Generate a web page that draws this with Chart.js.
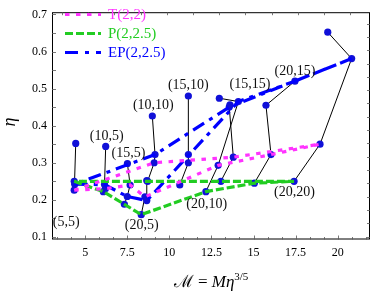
<!DOCTYPE html>
<html>
<head>
<meta charset="utf-8">
<script src="https://cdn.jsdelivr.net/npm/chart.js@4.4.0/dist/chart.umd.min.js"></script>
<style>
  html, body { margin: 0; padding: 0; background: #fff; }
</style>
</head>
<body>
<canvas id="grafico" width="374" height="295"></canvas>
<script>
// pares de massas (m1,m2)
const pares = ['(5,5)', '(10,5)', '(15,5)', '(20,5)', '(10,10)', '(15,10)', '(20,10)', '(15,15)', '(20,15)', '(20,20)'];

// valores verdadeiros (curva P(2,2.5))
const mcVerdade  = [4.35, 6.08, 7.33, 8.33, 8.71, 10.62, 12.17, 13.06, 15.05, 17.41];
const etaVerdade = [0.250, 0.222, 0.188, 0.160, 0.250, 0.240, 0.222, 0.250, 0.245, 0.250];

// T(2,2)
const mcT  = [4.35, 6.20, 7.67, 8.55, 9.10, 11.13, 12.90, 13.80, 16.04, 18.95];
const etaT = [0.226, 0.230, 0.240, 0.208, 0.300, 0.300, 0.293, 0.315, 0.322, 0.350];

// EP(2,2.5)
const mcEP  = [4.38, 6.15, 7.50, 8.66, 9.15, 11.13, 14.10, 13.56, 17.46, 20.83];
const etaEP = [0.242, 0.241, 0.209, 0.198, 0.322, 0.322, 0.465, 0.450, 0.520, 0.581];

// pontos isolados no topo de cada cadeia
const mcX  = [4.44, 6.22, 7.51, 8.66, 8.99, 11.13, 12.97, 13.60, 15.74, 19.41];
const etaX = [0.352, 0.344, 0.298, 0.252, 0.426, 0.480, 0.474, 0.456, 0.455, 0.652];

// ordem das cadeias pretas (0 verdade, 1 T, 2 EP, 3 X)
const cadeias = [
  [0, 1, 2, 3], [0, 1, 2, 3], [0, 2, 1, 3], [0, 1, 2, 3], [0, 1, 2, 3],
  [0, 1, 2, 3], [0, 1, 2, 3], [0, 1, 2, 3], [0, 1, 3, 2], [0, 1, 2, 3]
];

// contorno da grade de massas
const ordemContorno = [0, 1, 2, 3, 6, 8, 9, 7, 4, 0];

// onde ficam os rótulos (em unidades dos eixos)
const rotuloX = [3.87, 6.28, 7.57, 8.36, 9.05, 11.13, 12.22, 14.79, 17.46, 17.43];
const rotuloY = [0.138, 0.370, 0.326, 0.130, 0.454, 0.509, 0.189, 0.511, 0.546, 0.220];

const xTicks = [5, 7.5, 10, 12.5, 15, 17.5, 20];
const yTicks = [0.1, 0.2, 0.3, 0.4, 0.5, 0.6, 0.7];

const modelos = [
  [mcVerdade, etaVerdade], [mcT, etaT], [mcEP, etaEP], [mcX, etaX]
];
const ponto = (m, i) => ({ x: modelos[m][0][i], y: modelos[m][1][i] });
const contorno = (m) => ordemContorno.map(i => ponto(m, i));

const serif = '"Liberation Serif", "DejaVu Serif", serif';
const azul = '#1010d8';
const magenta = '#ff33ff';
const verde = '#22cc22';

const datasets = [];

cadeias.forEach((c, i) => {
  datasets.push({
    type: 'line',
    data: c.map(m => ponto(m, i)),
    borderColor: '#000',
    borderWidth: 1,
    pointRadius: 0,
    fill: false,
    order: 4
  });
});

const todos = [];
for (let m = 0; m < 4; m++) {
  for (let i = 0; i < pares.length; i++) todos.push(ponto(m, i));
}
datasets.push({
  type: 'scatter',
  data: todos,
  pointRadius: 3.6,
  pointBackgroundColor: azul,
  pointBorderColor: azul,
  pointBorderWidth: 0,
  order: 3
});

datasets.push({
  type: 'line', label: 'T(2,2)', data: contorno(1),
  borderColor: magenta, borderWidth: 3.2, borderDash: [4.5, 6.5],
  pointRadius: 0, fill: false, order: 1
});
datasets.push({
  type: 'line', label: 'P(2,2.5)', data: contorno(0),
  borderColor: verde, borderWidth: 3.2, borderDash: [8, 3],
  pointRadius: 0, fill: false, order: 1
});
datasets.push({
  type: 'line', label: 'EP(2,2.5)', data: contorno(2),
  borderColor: '#0000ff', borderWidth: 3.2, borderDash: [13, 6, 4, 6],
  pointRadius: 0, fill: false, order: 1
});

const moldura = {
  id: 'moldura',
  afterDraw(chart) {
    const { ctx, chartArea: a, scales } = chart;
    const sx = scales.x, sy = scales.y;
    ctx.save();
    ctx.strokeStyle = '#000';
    ctx.lineWidth = 1;
    ctx.strokeRect(a.left + 0.5, a.top + 0.5, a.right - a.left - 1, a.bottom - a.top - 1);

    ctx.lineWidth = 0.8;
    ctx.strokeStyle = '#555';
    ctx.beginPath();
    // baixo
    for (let v = 10 / 3; v < sx.max; v += 5 / 6) {
      const px = Math.round(sx.getPixelForValue(v)) + 0.5;
      const maior = xTicks.some(t => Math.abs(t - v) < 1e-6);
      ctx.moveTo(px, a.bottom); ctx.lineTo(px, a.bottom - (maior ? 4 : 2.5));
    }
    // esquerda
    for (let v = 0.1; v < sy.max; v += 0.05) {
      const py = Math.round(sy.getPixelForValue(v)) + 0.5;
      ctx.moveTo(a.left, py); ctx.lineTo(a.left + 4, py);
    }
    // topo
    for (let px = a.left + 10; px < a.right; px += 26.2) {
      ctx.moveTo(Math.round(px) + 0.5, a.top); ctx.lineTo(Math.round(px) + 0.5, a.top + 3);
    }
    // direita
    for (let py = a.bottom - 3; py > a.top; py -= 13.3) {
      ctx.moveTo(a.right, Math.round(py) + 0.5); ctx.lineTo(a.right - 3, Math.round(py) + 0.5);
    }
    ctx.stroke();

    // rótulos dos pares
    ctx.fillStyle = '#111';
    ctx.font = '14px ' + serif;
    ctx.textAlign = 'center';
    ctx.textBaseline = 'middle';
    pares.forEach((p, i) => {
      ctx.fillText(p, sx.getPixelForValue(rotuloX[i]), sy.getPixelForValue(rotuloY[i]));
    });

    // legenda
    const itens = [
      ['T(2,2)', magenta, [4.5, 6.5]],
      ['P(2,2.5)', verde, [8, 3]],
      ['EP(2,2.5)', '#0000ff', [13, 7, 4, 7]]
    ];
    ctx.textAlign = 'left';
    ctx.font = '15px ' + serif;
    itens.forEach((it, k) => {
      const y = 14.5 + k * 19;
      ctx.strokeStyle = it[1];
      ctx.lineWidth = 3.2;
      ctx.setLineDash(it[2]);
      ctx.beginPath(); ctx.moveTo(65, y); ctx.lineTo(101, y); ctx.stroke();
      ctx.setLineDash([]);
      ctx.fillStyle = it[1];
      ctx.fillText(it[0], 108, y + 1);
    });

    // títulos dos eixos
    ctx.fillStyle = '#000';
    ctx.textBaseline = 'alphabetic';
    const partes = [
      ['ℳ = ', '17px ' + serif, 0],
      ['Mη', 'italic 17px ' + serif, 0],
      ['3/5', '11px ' + serif, -7]
    ];
    let larg = 0;
    partes.forEach(p => { ctx.font = p[1]; larg += ctx.measureText(p[0]).width; });
    let x0 = 211 - larg / 2;
    partes.forEach(p => {
      ctx.font = p[1];
      ctx.fillText(p[0], x0, 287 + p[2]);
      x0 += ctx.measureText(p[0]).width;
    });

    ctx.translate(15, 122);
    ctx.rotate(-Math.PI / 2);
    ctx.textAlign = 'center';
    ctx.font = 'italic 18px ' + serif;
    ctx.fillText('η', 0, 0);
    ctx.restore();
  }
};

new Chart(document.getElementById('grafico'), {
  data: { datasets },
  options: {
    responsive: false,
    animation: false,
    devicePixelRatio: 1,
    layout: { padding: { top: 4, right: 4, left: 0, bottom: 0 } },
    plugins: { legend: { display: false }, tooltip: { enabled: false } },
    scales: {
      x: {
        type: 'linear', min: 3.03, max: 21.92,
        grid: { display: false, drawTicks: false },
        border: { display: false },
        afterBuildTicks: s => { s.ticks = xTicks.map(v => ({ value: v })); },
        afterFit: s => { s.height = 55.5; },
        ticks: {
          color: '#000', padding: 6, maxRotation: 0,
          font: { family: serif, size: 12 },
          callback: v => String(v)
        }
      },
      y: {
        type: 'linear', min: 0.093, max: 0.706,
        grid: { display: false, drawTicks: false },
        border: { display: false },
        afterBuildTicks: s => { s.ticks = yTicks.map(v => ({ value: v })); },
        afterFit: s => { s.width = 52; },
        ticks: {
          color: '#000', padding: 5,
          font: { family: serif, size: 12 },
          callback: v => v.toFixed(1)
        }
      }
    }
  },
  plugins: [moldura]
});
</script>
</body>
</html>
